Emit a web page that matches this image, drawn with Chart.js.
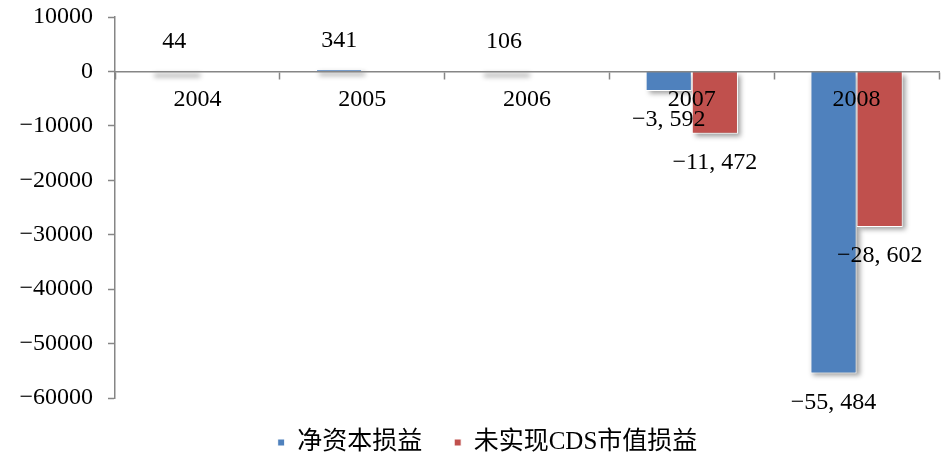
<!DOCTYPE html>
<html>
<head>
<meta charset="utf-8">
<script src="https://cdn.jsdelivr.net/npm/chart.js@4.4.0/dist/chart.umd.min.js"></script>
<style>
  html, body { margin: 0; padding: 0; background: #ffffff; }
  canvas { display: block; }
</style>
</head>
<body>
<canvas id="chart" width="943" height="461"></canvas>
<script>
// Categories and series (values in the same unit as the axis)
const years = ['2004', '2005', '2006', '2007', '2008'];
const netCapitalPnL = [44, 341, 106, -3592, -55484];
const unrealizedCdsPnL = [null, null, null, -11472, -28602];
const seriesNames = ['净资本损益', '未实现CDS市值损益'];
const yMin = -60000, yMax = 10000, yStep = 10000;

const BLUE = '#4F81BD';
const RED = '#C0504D';
const AXIS = '#868686';
const SERIF = '"Liberation Serif", "Noto Sans CJK SC", serif';

// Minus sign rendered as a true minus, thousands separated by ", "
function fmtValue(v) {
  const s = Math.abs(v).toLocaleString('en-US').replace(/,/g, ', ');
  return (v < 0 ? '\u2212' : '') + s;
}
function fmtTick(v) {
  return (v < 0 ? '\u2212' : '') + Math.abs(v);
}

// Soft drop shadow behind each bar (only the shadow is painted here)
const barShadow = {
  id: 'barShadow',
  beforeDatasetsDraw(chart) {
    const ctx = chart.ctx;
    chart.data.datasets.forEach((ds, i) => {
      const meta = chart.getDatasetMeta(i);
      meta.data.forEach((el, j) => {
        if (ds.data[j] == null) return;
        const p = el.getProps(['x', 'y', 'base', 'width'], true);
        const top = Math.min(p.y, p.base);
        const h = Math.max(Math.abs(p.base - p.y), 3);
        const shift = 5000;
        ctx.save();
        ctx.shadowColor = 'rgba(0,0,0,0.38)';
        ctx.shadowBlur = 5;
        ctx.shadowOffsetX = shift + 3;
        ctx.shadowOffsetY = 3;
        ctx.fillStyle = '#000';
        ctx.fillRect(p.x - p.width / 2 - shift, top, p.width, h);
        ctx.restore();
      });
    });
  }
};

// Value labels placed just beyond the end of each bar
const valueLabels = {
  id: 'valueLabels',
  afterDraw(chart) {
    const ctx = chart.ctx;
    ctx.save();
    ctx.font = '24px ' + SERIF;
    ctx.fillStyle = '#000';
    ctx.textAlign = 'center';
    ctx.textBaseline = 'middle';
    chart.data.datasets.forEach((ds, i) => {
      const meta = chart.getDatasetMeta(i);
      meta.data.forEach((el, j) => {
        const v = ds.data[j];
        if (v == null) return;
        const p = el.getProps(['x', 'y'], true);
        const y = v >= 0 ? p.y - 29 : p.y + 29;
        ctx.fillText(fmtValue(v), p.x, y);
      });
    });
    ctx.restore();
  }
};

// Nudge the legend block slightly to the right of the canvas centre
const legendNudge = {
  id: 'legendNudge',
  afterLayout(chart) {
    if (chart.legend) { chart.legend.left += 12; chart.legend.right += 12; }
  }
};

new Chart(document.getElementById('chart'), {
  type: 'bar',
  data: {
    labels: years,
    datasets: [
      { label: seriesNames[0], data: netCapitalPnL, backgroundColor: BLUE,
        borderColor: '#ffffff', borderWidth: 1 },
      { label: seriesNames[1], data: unrealizedCdsPnL, backgroundColor: RED,
        borderColor: '#ffffff', borderWidth: 1 }
    ]
  },
  options: {
    responsive: false,
    animation: false,
    devicePixelRatio: 1,
    layout: { padding: { left: 12, right: 4, top: 17, bottom: -4 } },
    datasets: { bar: { categoryPercentage: 0.56, barPercentage: 1.0 } },
    scales: {
      x: {
        position: { y: 0 },
        grid: { display: true, drawOnChartArea: false, offset: true,
                color: AXIS, tickLength: 7, tickWidth: 1.5 },
        border: { display: true, color: AXIS, width: 1.5, z: 1 },
        ticks: { z: 1, color: '#000', font: { family: SERIF, size: 24 }, padding: 7,
                 maxRotation: 0 }
      },
      y: {
        min: yMin, max: yMax,
        afterFit(scale) { scale.width = 103; },
        grid: { display: true, drawOnChartArea: false, color: AXIS,
                tickLength: 7, tickWidth: 1.5 },
        border: { display: true, color: AXIS, width: 1.5 },
        ticks: { stepSize: yStep, color: '#000',
                 font: { family: SERIF, size: 24, lineHeight: 0.1 },
                 padding: 15, callback: (v) => fmtTick(v) }
      }
    },
    plugins: {
      legend: {
        position: 'bottom',
        labels: {
          boxWidth: 7, boxHeight: 7, padding: 32, color: '#000',
          font: { family: SERIF, size: 25 }
        }
      },
      tooltip: { enabled: false }
    }
  },
  plugins: [barShadow, valueLabels, legendNudge]
});
</script>
</body>
</html>
